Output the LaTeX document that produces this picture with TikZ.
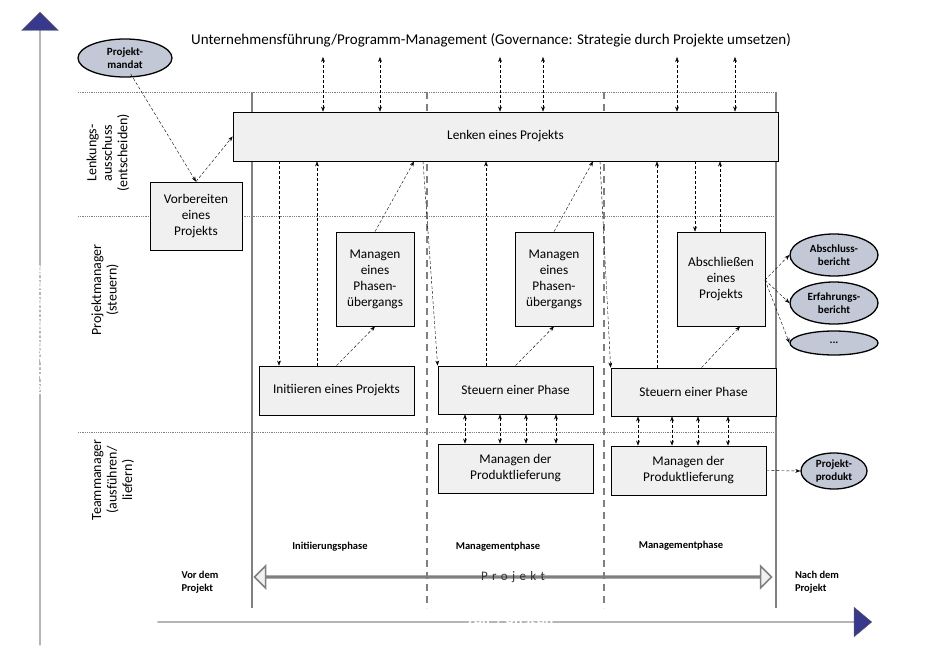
\documentclass[tikz,border=0pt]{standalone}
\usepackage{fontspec}
\setmainfont{Carlito}
\usetikzlibrary{arrows.meta, positioning, shapes.arrows, shapes.geometric}
\definecolor{bandblue}{HTML}{37398C}
\definecolor{boxgray}{HTML}{F0F0F0}
\definecolor{ovalgray}{HTML}{C3C8D6}
\tikzset{
    proc/.style = {draw, thick, fill=boxgray, align=center, font=\fontsize{13.3}{16}\selectfont, inner sep=0pt},
    oval/.style = {ellipse, draw, line width=1.3pt, fill=ovalgray, align=center, font=\bfseries\fontsize{11}{13}\selectfont, inner sep=0pt},
    flow/.style = {densely dashed, -{Stealth[length=5pt]}},
    both/.style = {densely dashed, {Stealth[length=5pt]}-{Stealth[length=5pt]}},
    grid/.style = {gray, densely dotted, thick},
    lane/.style = {align=center, rotate=90, font=\fontsize{14}{15.5}\selectfont},
    phase/.style = {font=\bfseries\fontsize{10.5}{13}\selectfont, align=left}
}
\begin{document}
\begin{tikzpicture}[x=1pt, y=-1pt]
    \useasboundingbox (0,0) rectangle (928,658);
    % swimlanes
    \draw[grid] (78,92) -- (778,92);
    \draw[grid] (78,216) -- (778,216);
    \draw[grid] (78,432) -- (778,432);
    \draw[gray, line width=1.5pt] (252,92) -- (252,608);
    \draw[gray, line width=1.5pt] (776,92) -- (776,608);
    \draw[gray, line width=1.5pt, dash pattern=on 7pt off 5pt] (427,92) -- (427,608);
    \draw[gray, line width=1.5pt, dash pattern=on 7pt off 5pt] (604,92) -- (604,608);
    % axes
    \node (up) [single arrow, draw=gray!70!black, fill=bandblue, rotate=90, minimum width=20pt, single arrow head extend=18pt, minimum height=633pt, inner sep=0pt, anchor=tip, single arrow tip angle=90] at (40,12) {};
    \node [rotate=90, text=white, font=\bfseries\fontsize{16}{18}\selectfont] at (40,330) {Managementebene};
    \node (time) [single arrow, draw=gray!70!black, fill=bandblue, minimum width=27pt, single arrow head extend=14.5pt, minimum height=714pt, inner sep=0pt, anchor=tip, single arrow tip angle=80] at (872,622) {};
    \node [text=white, font=\bfseries\fontsize{16}{18}\selectfont] at (510,622) {Zeit / Phasen};
    \node (proj) [double arrow, draw=gray, line width=1.5pt, fill=boxgray, minimum width=22pt, minimum height=517pt, double arrow head extend=8pt, inner sep=0pt] at (513,577) {};
    \node [font=\fontsize{13}{15}\selectfont, text=black!80] at (513,577) {P\,\,r\,\,o\,\,j\,\,e\,\,k\,\,t};
    % lane labels
    \node [lane] at (108,153) {Lenkungs-\\ausschuss\\(entscheiden)};
    \node [lane] at (105,290) {Projektmanager\\(steuern)};
    \node [lane] at (113,480) {Teammanager\\(ausführen/\\liefern)};
    \node [font=\fontsize{15}{17}\selectfont] at (491,40) {Unternehmensführung/Programm-Management (Governance: Strategie durch Projekte umsetzen)};
    \node [phase] at (330,547) {Initiierungsphase};
    \node [phase] at (498,547) {Managementphase};
    \node [phase] at (681,546) {Managementphase};
    \node [phase] at (200,582) {Vor dem\\Projekt};
    \node [phase] at (817,582) {Nach dem\\Projekt};
    % processes
    \node (lenken) [proc, minimum width=545pt, minimum height=49pt] at (505.5,136.5) {Lenken eines Projekts};
    \node (vorb) [proc, minimum width=92pt, minimum height=68pt] at (196,216) {Vorbereiten\\eines\\Projekts};
    \node (uebg1) [proc, minimum width=78pt, minimum height=94pt] at (375,279) {Managen\\eines\\Phasen-\\übergangs};
    \node (uebg2) [proc, minimum width=78pt, minimum height=94pt] at (554,279) {Managen\\eines\\Phasen-\\übergangs};
    \node (absch) [proc, minimum width=88pt, minimum height=94pt] at (721,279) {Abschließen\\eines\\Projekts};
    \node (init) [proc, minimum width=155pt, minimum height=49pt] at (336.5,390.5) {Initiieren eines Projekts};
    \node (steu1) [proc, minimum width=155pt, minimum height=48pt] at (515.5,390) {Steuern einer Phase};
    \node (steu2) [proc, minimum width=165pt, minimum height=48pt] at (693.5,392) {Steuern einer Phase};
    \node (lief1) [proc, minimum width=155pt, minimum height=49pt] at (515.5,468.5) {Managen der\\Produktlieferung};
    \node (lief2) [proc, minimum width=155pt, minimum height=49pt] at (688.5,470.5) {Managen der\\Produktlieferung};
    % outputs
    \node (mandat) [oval, minimum width=94pt, minimum height=38pt] at (125,58) {Projekt-\\mandat};
    \node (bericht) [oval, minimum width=88pt, minimum height=42pt] at (834,255) {Abschluss-\\bericht};
    \node (erfahr) [oval, minimum width=88pt, minimum height=42pt] at (834,303) {Erfahrungs-\\bericht};
    \node (mehr) [oval, minimum width=88pt, minimum height=24pt] at (834,343) {...};
    \node (produkt) [oval, minimum width=66pt, minimum height=36pt] at (834,471) {Projekt-\\produkt};
    % connectors
    \foreach \x in {323,380,500,543,677,735}
        \draw[both] (\x,57) -- (lenken.north -| \x,0);
    \draw[flow] (mandat.south east) ++(-28,2) -- (vorb.north);
    \draw[flow] (vorb.north) -- (lenken.west);
    \draw[flow] (lenken.south -| 279,0) -- (init.north -| 279,0);
    \draw[flow] (init.north -| 317,0) -- (lenken.south -| 317,0);
    \draw[flow] (init.north) -- (uebg1.south);
    \draw[flow] (uebg1.north) -- (lenken.south -| 414,0);
    \draw[flow] (lenken.south -| 423,0) -- (steu1.north west);
    \draw[flow] (steu1.north -| 486,0) -- (lenken.south -| 486,0);
    \draw[flow] (steu1.north) -- (uebg2.south);
    \draw[flow] (uebg2.north) -- (lenken.south -| 593,0);
    \draw[flow] (lenken.south -| 600,0) -- (steu2.north west);
    \draw[flow] (steu2.north -| 657,0) -- (lenken.south -| 657,0);
    \draw[flow] (lenken.south -| 695,0) -- (absch.north -| 695,0);
    \draw[flow] (absch.north -| 720,0) -- (lenken.south -| 720,0);
    \draw[flow] (steu2.north) ++(8,0) -- (absch.south -| 740,0);
    \foreach \x in {465,500,526,556}
        \draw[both] (steu1.south -| \x,0) -- (lief1.north -| \x,0);
    \foreach \x in {638,672,698,728}
        \draw[both] (steu2.south -| \x,0) -- (lief2.north -| \x,0);
    \coordinate (aus) at (765,280);
    \draw[flow] (aus) -- (bericht.west);
    \draw[flow] (aus) -- (erfahr.west);
    \draw[flow] (aus) -- (mehr.west);
    \draw[flow] (lief2.east) -- (produkt.west);
\end{tikzpicture}
\end{document}
